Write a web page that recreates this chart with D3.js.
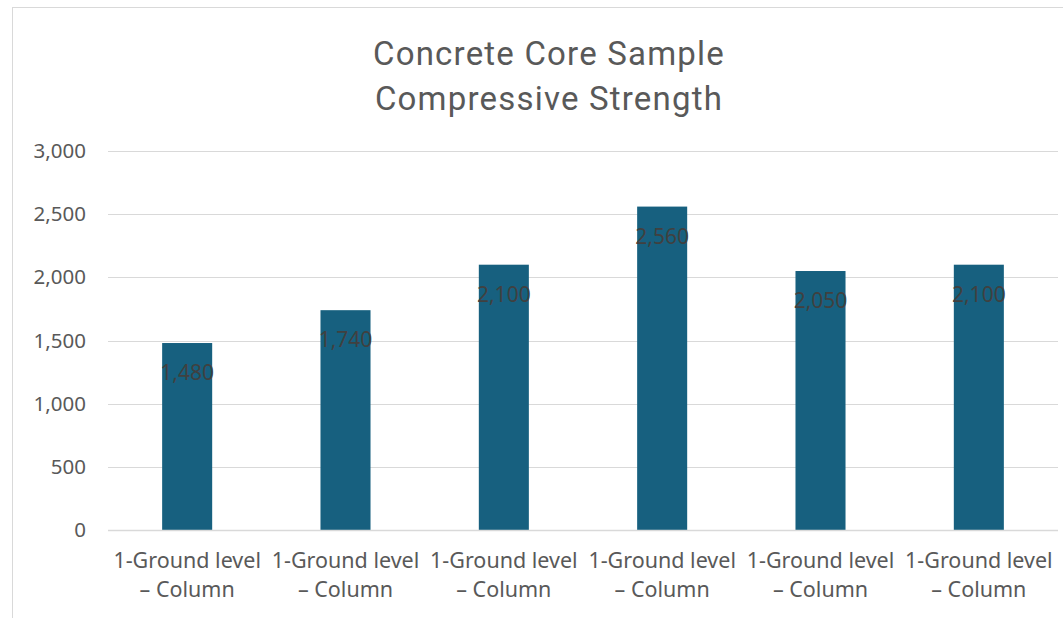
<!DOCTYPE html>
<html>
<head>
<meta charset="utf-8">
<script src="https://cdn.jsdelivr.net/npm/d3@7/dist/d3.min.js"></script>
<style>
  html, body { margin: 0; padding: 0; background: #fff; }
  svg { display: block; }
</style>
</head>
<body>
<div id="chart"></div>
<script>
// Sample labels (two-line category names) and measured strengths
const categories = ["S1", "S2", "S3", "S4", "S5", "S6"];
const labelLine1 = ["1-Ground level", "1-Ground level", "1-Ground level", "1-Ground level", "1-Ground level", "1-Ground level"];
const labelLine2 = ["\u2013 Column", "\u2013 Column", "\u2013 Column", "\u2013 Column", "\u2013 Column", "\u2013 Column"];
const strengths = [1480, 1740, 2100, 2560, 2050, 2100];
const yTicks = [0, 500, 1000, 1500, 2000, 2500, 3000];
const titleLines = ["Concrete Core Sample", "Compressive Strength"];

const W = 1063, H = 618;
const margin = { left: 108, right: 5, top: 151, bottom: 88 };

const svg = d3.select("#chart").append("svg")
  .attr("width", W).attr("height", H);

// chart-area frame
svg.append("rect")
  .attr("x", 12.5).attr("y", 7.5)
  .attr("width", W + 20).attr("height", H + 20)
  .attr("fill", "#fff").attr("stroke", "#d9d9d9").attr("stroke-width", 1);

const x = d3.scaleBand()
  .domain(categories)
  .range([margin.left, W - margin.right])
  .paddingInner(0.684).paddingOuter(0.342);

const y = d3.scaleLinear()
  .domain([0, 3000])
  .range([H - margin.bottom, margin.top]);

// gridlines
svg.append("g")
  .selectAll("line")
  .data(yTicks.filter(d => d > 0))
  .join("line")
  .attr("x1", margin.left).attr("x2", W - margin.right)
  .attr("y1", d => Math.round(y(d)) + 0.5).attr("y2", d => Math.round(y(d)) + 0.5)
  .attr("stroke", "#d9d9d9").attr("stroke-width", 1);

// y axis labels
const yAxis = d3.axisLeft(y).tickValues(yTicks).tickFormat(d3.format(",")).tickSize(0).tickPadding(0);
const yg = svg.append("g").attr("transform", `translate(${86},0)`).call(yAxis);
yg.select(".domain").remove();
yg.selectAll("text")
  .attr("fill", "#595959")
  .style("font-family", "'Noto Sans', sans-serif")
  .style("font-size", "20.5px");

// bars
svg.append("g")
  .selectAll("rect")
  .data(strengths)
  .join("rect")
  .attr("x", (d, i) => x(categories[i]))
  .attr("width", x.bandwidth())
  .attr("y", d => y(d))
  .attr("height", d => y(0) - y(d))
  .attr("fill", "#17607f");

// baseline
svg.append("line")
  .attr("x1", margin.left).attr("x2", W - margin.right)
  .attr("y1", y(0) + 0.5).attr("y2", y(0) + 0.5)
  .attr("stroke", "#d9d9d9").attr("stroke-width", 1.5);

// value labels inside bar tops
svg.append("g")
  .selectAll("text")
  .data(strengths)
  .join("text")
  .attr("x", (d, i) => x(categories[i]) + x.bandwidth() / 2)
  .attr("y", d => y(d) + 37)
  .attr("text-anchor", "middle")
  .attr("fill", "#404040")
  .style("font-family", "'Noto Sans', sans-serif")
  .style("font-size", "21px")
  .text(d => d3.format(",")(d));

// x axis labels
const xl = svg.append("g")
  .selectAll("text")
  .data(categories)
  .join("text")
  .attr("x", d => x(d) + x.bandwidth() / 2)
  .attr("text-anchor", "middle")
  .attr("fill", "#595959")
  .style("font-family", "'Noto Sans', sans-serif")
  .style("font-size", "21.5px");
xl.append("tspan").attr("x", d => x(d) + x.bandwidth() / 2).attr("y", 568).text((d, i) => labelLine1[i]);
xl.append("tspan").attr("x", d => x(d) + x.bandwidth() / 2).attr("y", 597).text((d, i) => labelLine2[i]);

// title
svg.append("g")
  .selectAll("text")
  .data(titleLines)
  .join("text")
  .attr("x", 549)
  .attr("y", (d, i) => 65 + i * 45)
  .attr("text-anchor", "middle")
  .attr("fill", "#595959")
  .style("font-family", "'Roboto', sans-serif")
  .style("font-size", "33px")
  .style("letter-spacing", "1.2px")
  .text(d => d);
</script>
</body>
</html>
